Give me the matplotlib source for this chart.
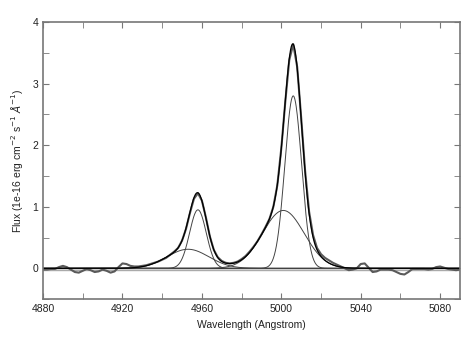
import numpy as np
import matplotlib.pyplot as plt
from matplotlib.ticker import MultipleLocator

plt.rcParams['font.family'] = ['Liberation Sans', 'DejaVu Sans']

# observed spectrum, 2 A sampling from 4880 to 5090
wave = np.arange(4880, 5091, 2)
flux = [-0.02, -0.02, -0.01, -0.01, 0.02, 0.04, 0.02, -0.02, -0.06, -0.07,
        -0.04, -0.01, -0.03, -0.06, -0.05, -0.02, -0.04, -0.07, -0.05, 0.02,
        0.08, 0.07, 0.04, 0.03, 0.03, 0.04, 0.05, 0.07, 0.09, 0.11,
        0.14, 0.17, 0.22, 0.27, 0.33, 0.45, 0.64, 0.90, 1.13, 1.22,
        1.10, 0.83, 0.52, 0.30, 0.18, 0.12, 0.09, 0.08, 0.09, 0.11,
        0.15, 0.20, 0.27, 0.35, 0.44, 0.55, 0.67, 0.80, 1.00, 1.35,
        1.95, 2.70, 3.38, 3.64, 3.27, 2.45, 1.58, 0.92, 0.54, 0.33,
        0.23, 0.17, 0.13, 0.09, 0.06, 0.03, 0.00, -0.03, -0.02, 0.00,
        0.07, 0.08, 0.01, -0.06, -0.05, -0.02, -0.02, -0.02, -0.03, -0.06,
        -0.09, -0.10, -0.06, -0.01, -0.01, -0.01, -0.01, -0.02, -0.01, 0.02,
        0.03, 0.01, -0.01, -0.02, -0.03, -0.02]

# gaussian fit components: [OIII]4959 narrow/broad, [OIII]5007 narrow/broad
comp_center = [4958.0, 4953.0, 5006.0, 5001.0]
comp_amp = [0.95, 0.31, 2.80, 0.94]
comp_sigma = [4.2, 10.5, 4.2, 10.5]
continuum = -0.02

x = np.linspace(4880, 5090, 1200)
comps = [a * np.exp(-0.5 * ((x - c) / s) ** 2)
         for c, a, s in zip(comp_center, comp_amp, comp_sigma)]
total = np.sum(comps, axis=0)

fig = plt.figure(figsize=(4.63, 3.38), dpi=100)
ax = fig.add_axes([0.093, 0.115, 0.9005, 0.82])

ax.plot([4880, 5090], [continuum, continuum], color='#aaaaaa', lw=1.0)
ax.axhline(0, color='black', lw=0.9)
ax.plot(wave, flux, color='#5a5a5a', lw=1.5)
for c in comps:
    ax.plot(x, c, color='#444444', lw=0.7)
ax.plot(x, total, color='black', lw=0.9)

ax.set_xlim(4880, 5090)
ax.set_ylim(-0.5, 4)
ax.xaxis.set_major_locator(MultipleLocator(40))
ax.xaxis.set_minor_locator(MultipleLocator(20))
ax.yaxis.set_major_locator(MultipleLocator(1))
ax.yaxis.set_minor_locator(MultipleLocator(0.5))
ax.tick_params(which='both', direction='in', top=True, right=True,
               color='#777777', labelsize=7.5, labelcolor='#222222')
ax.tick_params(which='major', length=4)
ax.tick_params(which='minor', length=4)
for sp in ax.spines.values():
    sp.set_color('#777777')
    sp.set_linewidth(1.2)

ax.set_xlabel('Wavelength (Angstrom)', fontsize=7.5, color='#222222')
ax.set_ylabel(r'Flux (1e-16 erg cm$^{-2}$ s$^{-1}$ $\AA^{-1}$)',
              fontsize=7.5, color='#222222', labelpad=5)

fig.savefig('out.png', dpi=100)
